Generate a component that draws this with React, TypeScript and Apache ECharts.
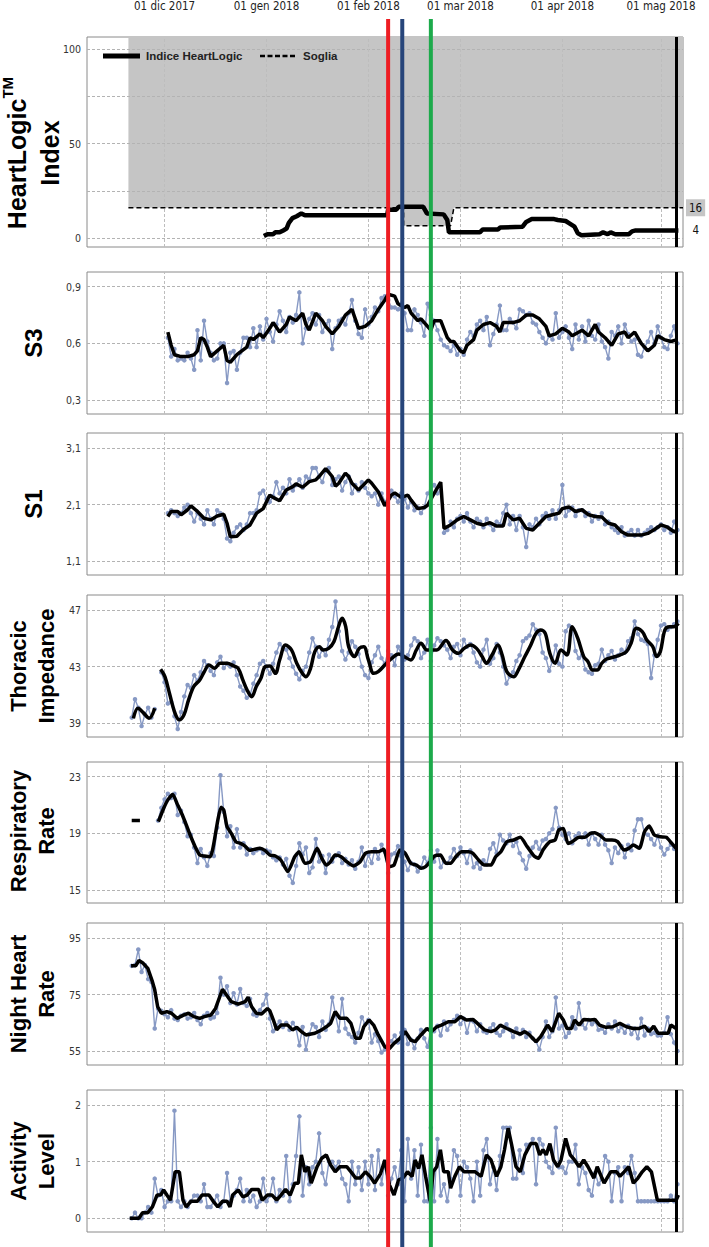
import React, { useEffect, useRef } from 'react';
import * as echarts from 'echarts';

// ---------- axes (days counted from 01 Dec 2017) ----------
const X_MIN = -23.6;
const X_MAX = 157.7;
const monthDays = [0, 31, 62, 90, 121, 151];
const monthLabels = ['01 dic 2017', '01 gen 2018', '01 feb 2018', '01 mar 2018', '01 apr 2018', '01 mag 2018'];
const eventDays = [68, 72.3, 81];
const eventColors = ['#ee1d23', '#27457a', '#1daa4b'];
const todayDay = 155.6;

// ---------- HeartLogic ----------
const hlTicks = [0, 25, 50, 75, 100];
const hlTickLabels = ['0', '', '50', '', '100'];
const hlLegendNames = ['Indice HeartLogic', 'Soglia'];
const hlIndexEndLabel = '4';
const hlThresholdEndLabel = '16';
const hlIndex = [[30.2,1],[31.3,2],[33,2],[33.7,3],[35,3],[36.1,4],[37.1,5],[37.8,8],[38.9,10.5],[40.2,11.5],[41.6,13],[42.7,12],[67.7,12],[68,15],[70.5,15],[71.2,16.5],[78.7,16.5],[79.8,13],[84.9,12.5],[86,9.5],[86.5,3],[95.9,3],[96.8,4.5],[101.4,4.5],[102.1,5.5],[108.9,6],[110,8.5],[111.7,10],[118.5,10],[119.6,9.5],[122,9],[122.9,8],[124.7,6],[125.7,2.5],[126.8,1.5],[132.3,2],[133.4,3],[134.8,2],[135.7,3],[137.1,2],[141.2,2],[142.2,3.5],[143.3,4],[156.3,4]];
const hlThreshold = [[-11,16],[72.7,16],[72.7,6.5],[87,6.5],[88,16],[157.7,16]];

// ---------- S3 ----------
const s3Ticks = [0.3, 0.6, 0.9];
const s3TickLabels = ['0,3', '0,6', '0,9'];
const s3RawStart = 1;
const s3Raw = [0.63,0.53,0.57,0.51,0.52,0.51,0.55,0.52,0.46,0.67,0.51,0.72,0.61,0.55,0.51,0.52,0.60,0.60,0.39,0.55,0.56,0.46,0.55,0.63,0.63,0.58,0.68,0.58,0.69,0.62,0.73,0.66,0.61,0.70,0.77,0.72,0.66,0.74,0.71,0.75,0.87,0.60,0.68,0.73,0.76,0.70,0.75,0.66,0.70,0.72,0.57,0.68,0.72,0.73,0.70,0.76,0.83,0.72,0.65,0.63,0.78,0.70,0.74,0.79,0.77,0.84,0.85,0.83,0.79,0.79,0.78,0.81,0.76,0.67,0.67,0.78,0.75,0.71,0.64,0.81,0.75,0.72,0.67,0.62,0.59,0.58,0.56,0.59,0.54,0.57,0.54,0.62,0.66,0.64,0.70,0.72,0.67,0.74,0.59,0.65,0.70,0.80,0.67,0.67,0.73,0.71,0.68,0.78,0.77,0.75,0.76,0.71,0.70,0.66,0.63,0.60,0.64,0.62,0.76,0.63,0.66,0.69,0.63,0.57,0.70,0.62,0.69,0.61,0.72,0.64,0.62,0.70,0.61,0.58,0.52,0.66,0.64,0.69,0.60,0.70,0.65,0.61,0.62,0.54,0.53,0.58,0.61,0.66,0.60,0.69,0.63,0.58,0.57,0.64,0.69,0.60];
const s3Trend = [[1,0.66],[2,0.59],[3,0.54],[5,0.53],[7,0.53],[9,0.54],[10,0.56],[11,0.63],[12,0.62],[13,0.58],[14,0.53],[16,0.56],[18,0.59],[19,0.51],[20,0.50],[22,0.54],[25,0.58],[26,0.63],[27,0.62],[29,0.65],[30,0.63],[32,0.68],[33,0.71],[35,0.66],[37,0.70],[38,0.74],[40,0.72],[42,0.76],[43,0.70],[44,0.67],[46,0.76],[48,0.72],[49,0.69],[51,0.65],[53,0.69],[55,0.75],[57,0.78],[59,0.68],[61,0.69],[63,0.72],[65,0.78],[67,0.83],[68,0.86],[70,0.85],[71,0.81],[73,0.79],[74,0.80],[75,0.76],[77,0.72],[78,0.73],[80,0.69],[81,0.67],[82,0.72],[84,0.72],[86,0.63],[87,0.61],[88,0.61],[90,0.56],[91,0.55],[92,0.59],[94,0.62],[95,0.67],[97,0.70],[99,0.71],[101,0.69],[102,0.66],[103,0.71],[106,0.71],[108,0.72],[110,0.75],[112,0.75],[114,0.73],[116,0.69],[117,0.64],[119,0.65],[121,0.68],[123,0.66],[124,0.64],[127,0.67],[129,0.64],[131,0.70],[132,0.66],[134,0.63],[136,0.59],[138,0.65],[140,0.66],[141,0.63],[143,0.66],[145,0.60],[147,0.56],[149,0.59],[150,0.64],[152,0.62],[154,0.61],[156,0.62]];

// ---------- S1 ----------
const s1Ticks = [1.1, 2.1, 3.1];
const s1TickLabels = ['1,1', '2,1', '3,1'];
const s1RawStart = 1;
const s1Raw = [1.95,2.0,1.95,1.9,1.95,2.05,2.1,1.95,1.8,1.95,1.85,1.75,2.0,1.85,1.75,2.0,1.95,1.85,1.5,1.45,1.6,1.7,1.75,1.65,1.75,1.95,1.95,2.0,2.3,2.35,2.2,2.15,2.25,2.5,2.3,2.4,2.3,2.55,2.35,2.45,2.55,2.4,2.6,2.55,2.75,2.75,2.6,2.5,2.7,2.75,2.45,2.55,2.6,2.35,2.5,2.6,2.3,2.45,2.35,2.5,2.4,2.3,2.25,2.3,2.1,2.3,2.15,2.2,2.35,2.25,2.15,2.3,2.2,2.05,2.15,2.0,2.05,1.95,2.05,2.3,2.35,2.45,2.3,2.35,1.6,1.65,1.8,1.7,1.85,1.9,1.8,1.95,1.8,1.7,1.85,1.8,1.7,1.85,1.75,1.65,1.8,1.75,1.95,2.1,1.75,1.9,1.65,1.9,1.7,1.35,1.75,1.7,1.85,1.75,1.9,1.95,1.85,2.0,1.85,2.0,2.45,1.9,2.0,2.05,1.9,2.0,2.0,1.9,1.95,1.8,1.9,1.85,1.95,1.75,1.8,1.7,1.65,1.6,1.7,1.55,1.6,1.65,1.55,1.65,1.55,1.6,1.65,1.7,1.65,1.7,1.75,1.65,1.7,1.6,1.8,1.65];
const s1Trend = [[1,1.89],[2,1.98],[4,1.98],[5,1.92],[7,2.01],[8,2.08],[10,1.98],[12,1.86],[14,1.83],[16,1.90],[18,1.93],[19,1.77],[20,1.53],[22,1.54],[24,1.66],[26,1.74],[28,1.95],[30,2.03],[32,2.27],[33,2.23],[35,2.17],[37,2.36],[39,2.42],[40,2.47],[42,2.41],[44,2.51],[46,2.54],[47,2.60],[49,2.74],[51,2.60],[52,2.43],[53,2.48],[55,2.66],[56,2.60],[57,2.48],[59,2.36],[60,2.42],[62,2.54],[63,2.48],[65,2.33],[67,2.08],[69,2.27],[70,2.31],[72,2.23],[74,2.27],[75,2.18],[77,2.03],[79,2.05],[80,2.09],[82,2.3],[84,2.5],[85,1.68],[87,1.74],[89,1.83],[91,1.89],[93,1.83],[95,1.77],[97,1.74],[99,1.78],[101,1.72],[103,1.72],[104,1.95],[106,1.83],[108,1.86],[110,1.68],[112,1.65],[114,1.77],[116,1.89],[118,1.92],[120,1.95],[121,2.03],[123,2.06],[125,1.98],[127,2.01],[129,1.92],[131,1.89],[133,1.88],[135,1.77],[137,1.74],[139,1.62],[141,1.56],[143,1.56],[145,1.56],[147,1.59],[149,1.66],[151,1.74],[153,1.70],[155,1.62],[156,1.64]];

// ---------- Thoracic Impedance ----------
const tiTicks = [39, 43, 47];
const tiTickLabels = ['39', '43', '47'];
const tiRawEarlyStart = -10;
const tiRawEarly = [39.4,40.7,40.1,38.8,39.6,40.1,39.4,40.0];
const tiRawStart = -1;
const tiRaw = [42.6,41.9,40.4,40.5,39.5,38.6,39.8,40.9,41.7,41.5,42.4,42.0,42.6,43.4,43.1,42.7,42.4,43.3,43.7,42.9,43.2,43.0,43.3,42.4,41.6,41.3,40.8,41.0,41.8,42.4,43.2,43.4,43.0,42.5,43.2,44.0,44.6,44.3,44.2,43.6,43.0,42.5,42.1,42.7,43.0,44.0,45.0,44.4,43.7,44.2,43.8,44.9,45.8,47.6,45.5,44.1,43.5,44.0,44.8,44.4,43.9,43.0,42.4,42.2,43.3,43.8,44.4,43.6,43.2,44.1,43.8,43.1,44.4,43.9,43.5,43.8,44.5,45.0,44.8,43.6,44.0,44.9,43.4,44.5,45.0,44.8,44.5,44.2,43.6,44.4,44.6,43.8,44.9,44.4,44.6,44.0,43.3,43.0,44.2,44.9,43.2,43.6,44.6,44.0,43.0,41.8,42.3,42.6,43.4,43.8,44.8,45.0,45.2,46.0,45.6,45.3,44.0,43.6,42.7,43.4,44.5,43.2,43.0,45.5,45.9,45.7,44.1,43.6,43.8,42.8,42.6,42.5,43.1,43.2,44.2,43.4,43.8,44.1,43.5,43.8,44.2,44.0,44.8,45.0,46.2,45.3,44.9,44.8,44.6,42.2,43.8,44.9,45.9,46.0,45.6,45.8,46.0,46.2];
const tiTrendEarly = [[-9.5,39.35],[-8.1,40.06],[-6.5,39.75],[-4.7,39.35],[-3,40.06]];
const tiTrend = [[-1.2,42.81],[0.1,42.29],[1.5,41.1],[3.2,39.7],[4.5,39.24],[5.9,39.6],[7.3,40.65],[8.9,41.6],[10.7,42.06],[12.1,42.65],[13.5,43.12],[15.2,42.88],[16.9,43.24],[19,43.24],[21,43.05],[22.4,42.88],[23.8,42.06],[25.1,41.35],[26.5,40.88],[27.9,41.6],[29.3,42.18],[30.6,43.0],[32,43.05],[33.7,42.53],[35,43.47],[36.8,44.53],[38.6,44.18],[40.2,43.24],[41.9,42.53],[43,42.29],[44.4,42.88],[45.7,44.06],[47.1,44.41],[48.2,44.18],[49.9,44.29],[51.5,44.76],[52.9,45.82],[54,46.41],[55.1,45.82],[56,44.41],[57.8,43.71],[59.2,44.29],[60.6,44.41],[62,43.47],[63.6,42.53],[65,42.65],[67,43.12],[69.1,43.59],[71.2,43.89],[72.9,43.71],[74.9,43.47],[76.6,44.18],[78,44.65],[79.8,44.18],[81.2,44.18],[82.8,44.18],[85.6,44.84],[87.6,44.18],[89.4,43.94],[91.1,44.29],[93.1,44.53],[94.9,44.29],[96.6,43.71],[97.9,43.24],[99.6,43.82],[101.4,44.53],[102.7,43.82],[104.1,42.65],[106.2,42.29],[107.6,42.76],[109.6,43.71],[111.4,44.53],[113,45.35],[114.4,45.59],[115.8,45.35],[117.2,43.94],[118.8,43.24],[120.6,44.18],[122.4,43.82],[124,45.82],[125.7,45.0],[127.5,43.71],[128.8,43.35],[130.2,42.76],[131.6,42.76],[133,43.24],[134.3,43.52],[136.4,43.66],[138.5,43.82],[140.5,44.06],[141.9,44.65],[143.5,45.71],[145.3,45.47],[146.7,44.88],[148.5,44.41],[149.7,43.71],[150.8,44.06],[152.2,45.59],[153.6,45.82],[154.9,45.82],[156.3,46.06]];

// ---------- Respiratory Rate ----------
const rrTicks = [15, 19, 23];
const rrTickLabels = ['15', '19', '23'];
const rrRawStart = -2;
const rrRaw = [19.9,20.8,21.4,21.8,21.5,21.8,20.3,20.6,19.8,18.8,18.9,18.0,16.9,17.9,17.3,16.7,17.6,17.4,19.4,23.1,20.5,18.8,19.5,18.0,19.3,18.0,18.3,17.5,17.9,17.6,17.8,17.9,17.6,17.8,17.7,17.3,17.1,17.3,16.8,17.2,16.0,15.5,16.7,18.3,17.5,18.0,16.2,16.6,18.6,17.0,17.4,16.2,17.5,17.0,17.4,17.6,16.9,17.2,16.8,17.1,16.5,17.0,18.0,16.7,17.5,16.9,17.9,17.2,18.2,17.7,16.2,17.5,17.6,18.1,17.4,17.0,16.4,16.9,16.8,16.3,16.6,17.3,16.9,17.8,17.0,17.8,16.6,17.0,16.9,17.3,17.9,17.4,18.0,17.6,16.9,17.8,16.6,16.9,16.5,17.1,16.8,17.9,18.3,17.6,18.9,18.5,18.3,18.9,18.1,18.4,17.6,17.1,16.5,17.4,18.0,18.4,17.9,18.5,18.6,19.0,19.3,20.8,19.4,18.9,18.6,19.0,18.3,18.8,19.0,18.7,19.0,18.2,19.0,18.6,18.2,18.9,18.2,17.8,16.9,18.0,17.6,18.1,17.3,18.2,17.8,19.2,20.0,20.0,19.0,18.9,18.6,18.2,18.8,18.0,17.5,17.9,18.2,17.9];
const rrTrendEarly = [[-10,19.9],[-7.5,19.9]];
const rrTrend = [[-1.9,19.82],[-0.3,20.76],[1.1,21.4],[2.5,21.75],[3.8,21.1],[5.2,20.4],[6.6,19.6],[8,18.76],[9.3,18.06],[10.7,17.47],[12.1,17.4],[13.9,17.35],[14.8,18.06],[16.2,19.94],[17.2,20.84],[18,20.65],[19,19.47],[20.3,19.0],[21.7,18.4],[23.1,18.29],[24.5,18.1],[25.8,17.8],[27.2,17.87],[29,17.94],[30.6,17.78],[32,17.47],[33.7,17.4],[35.4,17.1],[37.5,16.3],[39.6,17.35],[40.9,17.7],[42.7,16.88],[44.4,17.0],[46.4,17.94],[47.8,17.24],[49.2,16.76],[50.5,17.0],[51.9,17.47],[53.7,17.35],[55.4,17.0],[57.4,16.7],[59.5,17.0],[61.1,17.59],[62.9,17.7],[65,17.7],[66.6,17.87],[68.4,16.65],[69.8,16.76],[71.6,17.82],[73.2,17.59],[74.9,16.88],[76.6,16.76],[78,16.53],[79.4,16.65],[80.8,17.0],[82.1,17.4],[83.9,17.47],[85.6,16.88],[87,16.88],[88.6,17.35],[90.4,17.7],[92.4,17.7],[93.8,17.59],[95.5,17.12],[97.3,16.76],[99.3,16.76],[100.7,17.35],[102.3,17.7],[104.1,18.41],[106.2,18.53],[108.2,18.72],[110.3,18.06],[112.4,17.4],[113.7,17.24],[115.1,17.82],[117.2,18.41],[118.8,18.53],[119.9,19.24],[121.3,19.35],[122.7,18.29],[124,18.41],[126.1,18.72],[127.9,18.72],[129.5,19.0],[130.9,19.05],[132.3,18.88],[134.3,18.53],[136.1,18.53],[137.8,18.41],[139.8,17.82],[141.2,17.94],[142.6,18.18],[144.4,17.94],[146,19.12],[147.4,19.52],[149,18.88],[150.8,18.76],[152.6,18.72],[154.3,18.29],[155.6,17.94]];

// ---------- Night Heart Rate ----------
const nhTicks = [55, 75, 95];
const nhTickLabels = ['55', '75', '95'];
const nhRawStart = -10;
const nhRaw = [85.2,85.5,91.0,83.0,85.5,80.5,79.5,63.0,70.0,69.3,68.0,67.0,69.5,66.5,66.0,67.5,68.0,66.5,67.0,68.5,66.0,64.5,67.5,68.5,66.5,67.0,68.5,81.0,75.0,78.0,72.0,75.5,71.5,77.0,72.0,71.0,73.5,68.0,67.5,69.5,71.5,75.0,66.5,62.0,64.0,65.5,63.5,65.0,62.5,65.0,63.0,57.0,63.5,55.5,61.0,64.5,63.5,60.0,65.5,62.5,64.5,74.0,68.0,62.0,73.5,63.0,61.0,60.0,58.0,61.5,67.0,64.5,66.0,58.0,61.0,58.5,54.5,55.5,57.0,58.5,60.5,58.0,61.5,62.5,57.5,59.0,56.0,59.5,62.5,59.5,56.5,62.5,62.0,64.0,60.5,65.5,62.5,64.5,66.0,67.5,64.5,66.5,61.5,66.0,65.5,62.0,64.5,62.0,61.5,63.0,64.5,61.5,60.5,62.0,64.5,62.5,60.0,63.0,61.0,62.5,60.0,61.5,59.5,58.5,55.5,60.0,65.5,60.0,62.0,74.0,63.0,64.0,60.0,61.5,67.0,63.0,72.0,64.5,63.0,66.0,64.5,65.5,62.5,63.0,61.5,64.5,63.0,65.5,62.0,63.5,61.5,64.0,61.0,63.0,59.5,66.5,60.5,63.0,61.0,61.5,60.5,60.5,61.5,67.0,61.0,58.0,55.0];
const nhTrend = [[-10.2,85.2],[-8.8,85.2],[-7.8,87.1],[-6.5,86.1],[-5.1,84.3],[-3.7,79.6],[-3,76.7],[-2.1,70.7],[-1,68.4],[0.7,69.0],[2.1,68.4],[3.8,66.6],[5.9,67.8],[7.3,68.4],[8.9,67.2],[10.7,66.6],[12.1,67.2],[14.1,67.8],[15.5,70.1],[17.6,76.9],[19,74.6],[20.3,72.5],[22.4,71.6],[24.5,72.5],[25.4,74.1],[26.5,70.7],[27.9,68.4],[29.5,68.1],[31.3,70.1],[32,69.3],[33.1,66.0],[34.1,62.5],[35.4,64.2],[37.5,64.2],[38.9,62.5],[40.2,63.4],[41.6,61.9],[43,60.7],[45.7,61.3],[47.8,62.5],[49.2,63.6],[50.5,64.8],[51.9,69.0],[53.3,66.6],[55.4,66.6],[56.7,64.8],[58.1,59.5],[59.5,59.5],[60.6,63.6],[62.2,66.0],[63.6,64.2],[65,60.7],[67,56.5],[68.4,55.9],[69.8,57.7],[71.6,59.5],[73.2,61.9],[74.9,58.9],[76.2,58.3],[78,60.7],[79.8,63.0],[81.2,61.9],[82.8,63.6],[84.2,64.2],[86.3,65.4],[88.3,65.4],[90,67.2],[91.8,66.0],[93.8,66.2],[95.2,64.8],[97.3,62.5],[99.3,61.9],[100.7,62.5],[102.1,64.2],[104.1,63.0],[106.2,61.9],[108.2,61.0],[109.6,61.9],[111,60.7],[113,58.3],[114.4,60.1],[116.5,64.2],[117.9,61.9],[119.9,68.4],[121.3,66.0],[122.4,63.0],[123.8,63.0],[124.7,66.0],[126.1,64.2],[127.5,66.2],[129.5,66.0],[130.9,66.2],[132.3,64.2],[134.3,63.4],[136.4,63.6],[138.5,64.8],[140.5,63.6],[142.6,63.0],[144.4,63.0],[146,63.8],[147.4,61.9],[148.8,63.8],[150.1,61.3],[153.2,61.3],[154,64.2],[155.6,63.0]];

// ---------- Activity Level ----------
const acTicks = [0, 1, 2];
const acTickLabels = ['0', '1', '2'];
const acRawStart = -10;
const acRaw = [0.0,0.1,0.0,0.0,0.1,0.2,0.1,0.7,0.4,0.5,0.2,0.3,0.3,1.9,0.3,0.2,0.3,0.2,0.3,0.4,0.4,0.3,0.6,0.2,0.2,0.3,0.4,0.2,0.3,0.8,0.3,0.4,0.5,0.7,0.3,0.5,0.3,0.4,0.2,0.3,0.7,0.3,0.4,0.7,0.3,0.5,0.4,1.1,0.3,0.6,1.1,1.8,0.4,0.9,0.6,0.9,1.0,1.5,0.8,0.6,1.0,1.0,0.9,1.0,0.7,0.6,0.3,1.0,0.6,0.9,0.5,1.0,0.6,1.1,0.5,1.2,0.6,1.0,0.4,0.7,0.9,0.6,1.2,0.3,1.4,0.7,1.2,0.4,1.3,0.3,0.3,1.6,0.3,1.4,0.4,0.6,0.3,0.7,1.2,1.1,0.4,1.0,0.9,0.7,0.3,1.0,0.4,1.2,1.4,0.6,0.9,0.5,1.1,1.6,1.6,1.6,0.7,0.7,1.2,0.8,1.3,1.3,1.4,0.6,1.4,1.3,1.0,0.9,0.8,1.6,0.9,0.9,0.8,1.0,1.0,1.3,0.6,0.9,0.8,0.5,0.4,0.8,0.6,0.7,1.1,1.0,0.3,0.8,0.9,0.3,0.9,0.8,1.1,0.8,0.3,0.3,0.3,0.3,0.3,0.3,0.3,0.3,0.3,0.3,0.4,0.3,0.6];
const acTrend = [[-10.6,0],[-7.8,0],[-6.7,0.1],[-5.1,0.1],[-3.7,0.2],[-2.3,0.41],[-1.2,0.41],[-0.3,0.5],[0.7,0.41],[1.8,0.32],[3.2,0.82],[4.5,0.82],[5.6,0.32],[6.6,0.2],[8,0.3],[10,0.3],[11.4,0.41],[13.5,0.41],[14.8,0.3],[16.2,0.2],[17.6,0.3],[19,0.3],[19.9,0.2],[20.7,0.41],[22.4,0.5],[23.8,0.38],[25.1,0.41],[26.5,0.51],[28.6,0.51],[29.7,0.32],[31.3,0.41],[32.7,0.41],[34.1,0.32],[35.4,0.41],[36.8,0.51],[38.2,0.41],[39.6,0.62],[40.7,0.62],[41.6,1.12],[42.7,0.82],[43.7,0.91],[44.6,0.62],[46.4,0.91],[47.8,1.06],[49.2,1.12],[50.5,0.94],[51.9,0.82],[53.3,0.91],[55.4,0.91],[56.7,0.82],[58.1,0.71],[59.5,0.71],[61.1,0.82],[62.5,0.74],[63.9,0.62],[65.7,0.79],[67,1.03],[68.4,0.59],[69.8,0.41],[71.2,0.68],[72.5,0.71],[73.9,0.82],[75.3,0.74],[76.2,1.03],[77.3,0.88],[78.3,1.12],[79.4,0.74],[80.8,0.3],[81.7,0.82],[82.8,0.91],[83.9,1.21],[84.9,0.82],[86.3,0.82],[87,0.53],[88.3,0.74],[89.7,0.91],[91.1,0.82],[94.5,0.82],[96.3,0.74],[97.9,1.12],[99.3,1.03],[101,0.74],[102.3,0.91],[103.4,1.21],[104.5,1.59],[105.5,1.32],[106.9,0.91],[108.2,0.82],[109.6,1.12],[111.4,1.32],[113,1.32],[114.1,1.12],[115.1,1.21],[116.1,1.12],[117.2,1.32],[118.3,1.03],[119.6,0.91],[120.6,1.03],[122,1.41],[123.4,1.12],[124.7,1.03],[126.1,0.91],[127.5,1.03],[128.8,0.91],[130.6,0.71],[131.6,0.91],[133.7,0.62],[135.7,0.82],[137.5,0.82],[138.5,0.74],[139.8,0.82],[141.2,0.91],[142.6,0.62],[144,0.71],[145.3,0.82],[146.7,0.91],[148.1,0.82],[149.9,0.32],[155.6,0.32],[156.3,0.41]];

// ---------- styling ----------
const FONT_NARROW = "'Liberation Sans Narrow', 'Arial Narrow', 'DejaVu Sans Condensed', 'Liberation Sans', sans-serif";
const FONT_TITLE = "'Liberation Sans', Arial, sans-serif";
const RAW_COLOR = '#8799c4';
const GRAY_FILL = '#c5c5c5';
const GRID_LEFT = 87;
const GRID_WIDTH = 596;

const toSeries = (start: number, vals: number[]) => vals.map((v, i) => [start + i, v]);

type PanelDef = {
  top: number; height: number; min: number; max: number;
  ticks: number[]; tickLabels: string[];
  raw: any[]; trend: any[]; smooth: number | boolean;
};

const panels: PanelDef[] = [
  { top: 37, height: 210, min: -4.76, max: 106.35, ticks: hlTicks, tickLabels: hlTickLabels, raw: [], trend: [], smooth: false },
  { top: 272, height: 142, min: 0.226, max: 0.978, ticks: s3Ticks, tickLabels: s3TickLabels, raw: toSeries(s3RawStart, s3Raw), trend: s3Trend, smooth: false },
  { top: 433, height: 142, min: 0.852, max: 3.372, ticks: s1Ticks, tickLabels: s1TickLabels, raw: toSeries(s1RawStart, s1Raw), trend: s1Trend, smooth: false },
  { top: 595, height: 142, min: 38.03, max: 48.06, ticks: tiTicks, tickLabels: tiTickLabels,
    raw: [...toSeries(tiRawEarlyStart, tiRawEarly), [-2, null], ...toSeries(tiRawStart, tiRaw)],
    trend: [...tiTrendEarly, [-2, null], ...tiTrend], smooth: 0.35 },
  { top: 762, height: 141, min: 14.08, max: 24.04, ticks: rrTicks, tickLabels: rrTickLabels, raw: toSeries(rrRawStart, rrRaw),
    trend: [...rrTrendEarly, [-5, null], ...rrTrend], smooth: 0.2 },
  { top: 923, height: 142, min: 50.05, max: 100.4, ticks: nhTicks, tickLabels: nhTickLabels, raw: toSeries(nhRawStart, nhRaw), trend: nhTrend, smooth: false },
  { top: 1090, height: 142, min: -0.242, max: 2.265, ticks: acTicks, tickLabels: acTickLabels, raw: toSeries(acRawStart, acRaw), trend: acTrend, smooth: false },
];

const titleDefs = [
  { rich: true, text: '{a|HeartLogic}{s|TM}\n{a|Index}', cx: 33, cy: 153, size: 25 },
  { rich: false, text: 'S3', cx: 33, cy: 343, size: 24 },
  { rich: false, text: 'S1', cx: 33, cy: 504, size: 24 },
  { rich: false, text: 'Thoracic\nImpedance', cx: 32, cy: 666, size: 22 },
  { rich: false, text: 'Respiratory\nRate', cx: 32, cy: 831, size: 22 },
  { rich: false, text: 'Night Heart\nRate', cx: 32, cy: 994, size: 22 },
  { rich: false, text: 'Activity\nLevel', cx: 32, cy: 1161, size: 22 },
];

function gridMarkLine(p: PanelDef, withDates: boolean) {
  const data: any[] = [];
  p.ticks.forEach((v, k) => {
    const t = p.tickLabels[k];
    data.push({
      yAxis: v,
      label: t ? { show: true, formatter: t, position: 'start', distance: 6, fontSize: 10.5, color: '#333', fontFamily: FONT_NARROW } : { show: false },
    });
  });
  monthDays.forEach((d, k) => {
    data.push({
      xAxis: d,
      lineStyle: { type: [3, 2], color: '#bdbdbd', width: 1 },
      label: withDates
        ? { show: true, formatter: monthLabels[k], position: 'end', distance: 25, fontSize: 11.5, color: '#222', fontFamily: FONT_NARROW }
        : { show: false },
    });
  });
  return {
    silent: true, symbol: ['none', 'none'], z: 2, animation: false,
    lineStyle: { type: [3, 2], color: '#b3b3b3', width: 1 },
    emphasis: { disabled: true },
    data,
  };
}

const todayMarkLine = {
  silent: true, symbol: ['none', 'none'], z: 6, animation: false,
  lineStyle: { type: 'solid', color: '#000', width: 3 },
  label: { show: false },
  emphasis: { disabled: true },
  data: [{ xAxis: todayDay }],
};

function buildOption() {
  const grid = panels.map(p => ({
    left: GRID_LEFT, width: GRID_WIDTH, top: p.top, height: p.height,
    show: true, borderColor: '#8a8a8a', borderWidth: 1, backgroundColor: 'rgba(0,0,0,0)',
  }));
  const xAxis = panels.map((p, i) => ({ type: 'value', gridIndex: i, min: X_MIN, max: X_MAX, show: false }));
  const yAxis = panels.map((p, i) => ({ type: 'value', gridIndex: i, min: p.min, max: p.max, show: false }));
  const series: any[] = [];

  // Panel 1: shaded region above the threshold, threshold, index
  const p0 = panels[0];
  series.push({
    type: 'line', xAxisIndex: 0, yAxisIndex: 0, data: hlThreshold, symbol: 'none', silent: true, z: 1,
    lineStyle: { width: 0, opacity: 0 }, areaStyle: { color: GRAY_FILL, origin: 'end', opacity: 1 },
    markLine: gridMarkLine(p0, true),
  });
  series.push({
    name: hlLegendNames[1], type: 'line', xAxisIndex: 0, yAxisIndex: 0, data: hlThreshold, symbol: 'none', silent: true, z: 4,
    lineStyle: { color: '#000', width: 1.5, type: [5, 3] }, itemStyle: { color: '#000' },
    endLabel: { show: true, formatter: hlThresholdEndLabel, backgroundColor: GRAY_FILL, padding: [3, 3, 2, 3], color: '#111', fontSize: 11.5, fontFamily: FONT_NARROW, distance: 3 },
  });
  series.push({
    name: hlLegendNames[0], type: 'line', xAxisIndex: 0, yAxisIndex: 0, data: hlIndex, symbol: 'none', silent: true, z: 5,
    lineStyle: { color: '#000', width: 4.5 }, itemStyle: { color: '#000' },
    endLabel: { show: true, formatter: hlIndexEndLabel, color: '#111', fontSize: 11.5, fontFamily: FONT_NARROW, distance: 14 },
    markLine: todayMarkLine,
  });

  for (let i = 1; i < panels.length; i++) {
    const p = panels[i];
    series.push({
      type: 'line', xAxisIndex: i, yAxisIndex: i, data: p.raw, silent: true, z: 3,
      symbol: 'circle', symbolSize: 4.5, showSymbol: true, connectNulls: false,
      lineStyle: { color: RAW_COLOR, width: 1.4 }, itemStyle: { color: RAW_COLOR },
      markLine: gridMarkLine(p, false),
    });
    series.push({
      type: 'line', xAxisIndex: i, yAxisIndex: i, data: p.trend, silent: true, z: 4,
      symbol: 'none', smooth: p.smooth, connectNulls: false,
      lineStyle: { color: '#000', width: 3.5 }, itemStyle: { color: '#000' },
      markLine: todayMarkLine,
    });
  }

  return {
    animation: false,
    backgroundColor: '#fff',
    grid, xAxis, yAxis, series,
  };
}

function buildGraphic(chart: any) {
  const els: any[] = [];
  titleDefs.forEach(t => {
    const style: any = {
      text: t.text, fill: '#000', align: 'center', verticalAlign: 'middle',
      fontSize: t.size, fontWeight: 'bold', fontFamily: FONT_TITLE, lineHeight: t.size + 6,
    };
    if (t.rich) {
      style.rich = {
        a: { fontSize: t.size, fontWeight: 'bold', fontFamily: FONT_TITLE, lineHeight: t.size + 8, fill: '#000' },
        s: { fontSize: 15, fontWeight: 'bold', fontFamily: FONT_TITLE, verticalAlign: 'top', lineHeight: t.size + 8, fill: '#000' },
      };
    }
    els.push({ type: 'text', x: t.cx, y: t.cy, rotation: Math.PI / 2, silent: true, z: 50, style });
  });

  // legend of the HeartLogic panel
  const legY = 56;
  els.push({ type: 'rect', silent: true, z: 20, shape: { x: 103, y: legY - 2.5, width: 37, height: 5 }, style: { fill: '#000' } });
  els.push({ type: 'text', silent: true, z: 20, x: 146, y: legY, style: { text: hlLegendNames[0], fill: '#222', fontSize: 11.5, fontWeight: 'bold', fontFamily: FONT_TITLE, verticalAlign: 'middle', align: 'left' } });
  els.push({ type: 'line', silent: true, z: 20, shape: { x1: 260, y1: legY, x2: 297, y2: legY }, style: { stroke: '#000', lineWidth: 2.5, lineDash: [5, 2.5] } });
  els.push({ type: 'text', silent: true, z: 20, x: 303, y: legY, style: { text: hlLegendNames[1], fill: '#222', fontSize: 11.5, fontWeight: 'bold', fontFamily: FONT_TITLE, verticalAlign: 'middle', align: 'left' } });

  eventDays.forEach((d, k) => {
    const x = chart.convertToPixel({ xAxisIndex: 0 }, d);
    els.push({
      type: 'line', silent: true, z: 100,
      shape: { x1: x, y1: 19, x2: x, y2: 1247 },
      style: { stroke: eventColors[k], lineWidth: 4 },
    });
  });
  return els;
}

export default function App() {
  const ref = useRef<HTMLDivElement>(null);
  useEffect(() => {
    document.body.style.margin = '0';
    document.body.style.overflow = 'hidden';
    if (!ref.current) return;
    const chart = echarts.init(ref.current, undefined, { renderer: 'svg' });
    chart.setOption(buildOption() as any);
    chart.setOption({ graphic: buildGraphic(chart) } as any);
    return () => chart.dispose();
  }, []);
  return <div ref={ref} style={{ width: 709, height: 1247, background: '#fff' }} />;
}
